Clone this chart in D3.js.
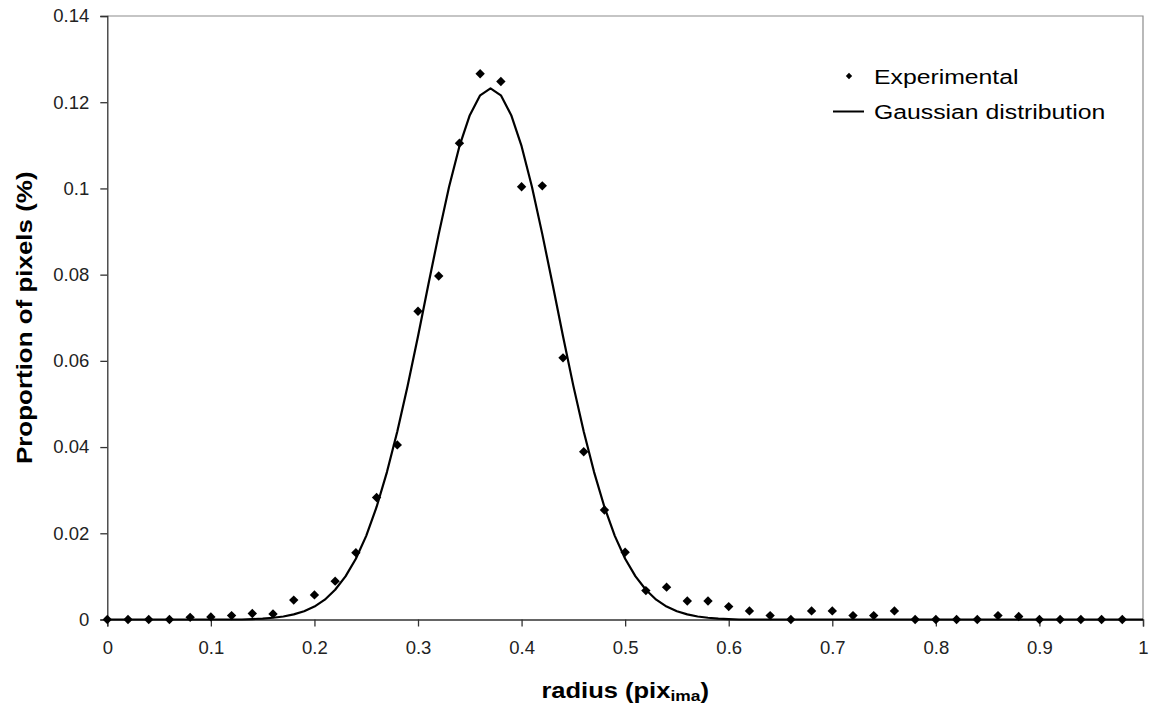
<!DOCTYPE html>
<html>
<head>
<meta charset="utf-8">
<script src="https://cdn.jsdelivr.net/npm/d3@7"></script>
<style>
  html, body { margin: 0; padding: 0; background: #fff; }
  svg { display: block; }
  text { font-family: Arial, "Liberation Sans", sans-serif; }
</style>
</head>
<body>
<svg id="chart" width="1150" height="715"></svg>
<script>
// ---- data ----
const expX = [0,0.02,0.04,0.06,0.08,0.10,0.12,0.14,0.16,0.18,0.20,0.22,0.24,0.26,0.28,0.30,0.32,0.34,0.36,0.38,0.40,0.42,0.44,0.46,0.48,0.50,0.52,0.54,0.56,0.58,0.60,0.62,0.64,0.66,0.68,0.70,0.72,0.74,0.76,0.78,0.80,0.82,0.84,0.86,0.88,0.90,0.92,0.94,0.96,0.98];
const expY = [0,0,0,0,0.0005,0.0006,0.0009,0.0014,0.0013,0.0045,0.0057,0.0089,0.0155,0.0283,0.0405,0.0715,0.0797,0.1105,0.1266,0.1248,0.1004,0.1006,0.0607,0.0389,0.0254,0.0156,0.0067,0.0075,0.0043,0.0043,0.0030,0.0020,0.0009,0,0.0020,0.0020,0.0009,0.0009,0.0020,0,0,0,0,0.0009,0.0007,0,0,0,0,0];

const gaussX = [0,0.01,0.02,0.03,0.04,0.05,0.06,0.07,0.08,0.09,0.10,0.11,0.12,0.13,0.14,0.15,0.16,0.17,0.18,0.19,0.20,0.21,0.22,0.23,0.24,0.25,0.26,0.27,0.28,0.29,0.30,0.31,0.32,0.33,0.34,0.35,0.36,0.37,0.38,0.39,0.40,0.41,0.42,0.43,0.44,0.45,0.46,0.47,0.48,0.49,0.50,0.51,0.52,0.53,0.54,0.55,0.56,0.57,0.58,0.59,0.60,0.61,0.62,0.63,0.64,0.65,0.66,0.67,0.68,0.69,0.70,0.71,0.72,0.73,0.74,0.75,0.76,0.77,0.78,0.79,0.80,0.81,0.82,0.83,0.84,0.85,0.86,0.87,0.88,0.89,0.90,0.91,0.92,0.93,0.94,0.95,0.96,0.97,0.98,0.99,1.00];
const gaussY = [0,0,0,0,0,0,0,0,0,0,0,0,0,0,0.0001,0.0002,0.0004,0.0007,0.0012,0.0019,0.0030,0.0046,0.0069,0.0100,0.0141,0.0194,0.0261,0.0342,0.0436,0.0542,0.0657,0.0777,0.0894,0.1004,0.1098,0.1170,0.1216,0.1232,0.1216,0.1170,0.1098,0.1004,0.0894,0.0777,0.0657,0.0542,0.0436,0.0342,0.0261,0.0194,0.0141,0.0100,0.0069,0.0046,0.0030,0.0019,0.0012,0.0007,0.0004,0.0002,0.0001,0,0,0,0,0,0,0,0,0,0,0,0,0,0,0,0,0,0,0,0,0,0,0,0,0,0,0,0,0,0,0,0,0,0,0,0,0,0,0,0];

const xTicks = [0,0.1,0.2,0.3,0.4,0.5,0.6,0.7,0.8,0.9,1];
const xTickLabels = ["0","0.1","0.2","0.3","0.4","0.5","0.6","0.7","0.8","0.9","1"];
const yTicks = [0,0.02,0.04,0.06,0.08,0.10,0.12,0.14];
const yTickLabels = ["0","0.02","0.04","0.06","0.08","0.1","0.12","0.14"];

const legendLabels = ["Experimental","Gaussian distribution"];
const xTitle = ["radius (pix","ima",")"];
const yTitle = "Proportion of pixels (%)";

// ---- layout ----
const L = 107.3, R = 1143, T = 16, B = 619.5;
const svg = d3.select("#chart");
const x = d3.scaleLinear().domain([0,1]).range([L,R]);
const y = d3.scaleLinear().domain([0,0.14]).range([B,T]);

// plot border (top/right)
svg.append("path")
  .attr("d", `M${L},${T}H${R}V${B}`)
  .attr("fill","none").attr("stroke","#8c8c8c").attr("stroke-width",1.2);

// x axis
const xAxis = svg.append("g").attr("transform",`translate(0,${B})`)
  .call(d3.axisBottom(x).tickValues(xTicks).tickSize(7).tickPadding(14)
        .tickFormat((d,i)=>xTickLabels[i]));
// y axis
const yAxis = svg.append("g").attr("transform",`translate(${L},0)`)
  .call(d3.axisLeft(y).tickValues(yTicks).tickSize(7).tickPadding(11)
        .tickFormat((d,i)=>yTickLabels[i]));
[xAxis,yAxis].forEach(g=>{
  g.select(".domain").attr("stroke","#333").attr("stroke-width",1.3);
  g.selectAll(".tick line").attr("stroke","#333").attr("stroke-width",1.3);
  g.selectAll(".tick text").attr("fill","#222").style("font-size","18.5px");
});
xAxis.selectAll(".tick text").attr("dy","0.71em");

// gaussian line
const gauss = gaussX.map((d,i)=>({x:d,y:gaussY[i]}));
svg.append("path").datum(gauss)
  .attr("fill","none").attr("stroke","#000").attr("stroke-width",2.2)
  .attr("stroke-linejoin","round")
  .attr("d", d3.line().x(d=>x(d.x)).y(d=>y(d.y)));

// experimental points
const exp = expX.map((d,i)=>({x:d,y:expY[i]}));
const diamond = d3.symbol().type(d3.symbolSquare).size(44);
svg.append("g").selectAll("path").data(exp).join("path")
  .attr("d", diamond)
  .attr("transform", d=>`translate(${x(d.x)},${y(d.y)}) rotate(45)`)
  .attr("fill","#000");

// legend
const lg = svg.append("g");
lg.append("path").attr("d", d3.symbol().type(d3.symbolSquare).size(20))
  .attr("transform","translate(849,76) rotate(45)").attr("fill","#000");
lg.append("line").attr("x1",833).attr("x2",864).attr("y1",111.5).attr("y2",111.5)
  .attr("stroke","#000").attr("stroke-width",2);
lg.append("g").attr("transform","translate(874,83.5) scale(1.18,1)")
  .append("text").style("font-size","21px").attr("fill","#000").text(legendLabels[0]);
lg.append("g").attr("transform","translate(874,118.5) scale(1.18,1)")
  .append("text").style("font-size","21px").attr("fill","#000").text(legendLabels[1]);

// x title
const xt = svg.append("g").attr("transform",`translate(${(L+R)/2},698) scale(1.16,1)`)
  .append("text").attr("text-anchor","middle").style("font-weight","bold")
  .style("font-size","22px").attr("fill","#000");
xt.append("tspan").text(xTitle[0]);
xt.append("tspan").attr("dy",3).style("font-size","15px").text(xTitle[1]);
xt.append("tspan").attr("dy",-3).text(xTitle[2]);

// y title
svg.append("g").attr("transform",`translate(32,${(T+B)/2}) rotate(-90) scale(1.18,1)`)
  .append("text").attr("text-anchor","middle").style("font-weight","bold")
  .style("font-size","22px").attr("fill","#000").text(yTitle);
</script>
</body>
</html>
